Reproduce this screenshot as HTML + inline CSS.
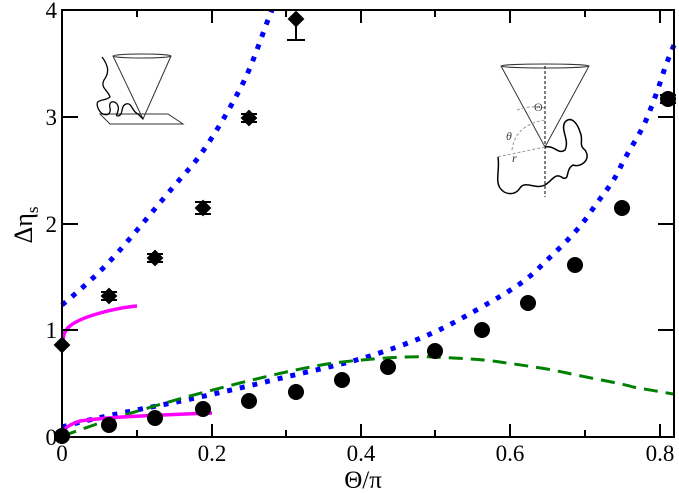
<!DOCTYPE html>
<html><head><style>body{margin:0;background:#fff}svg{display:block}text{font-family:"Liberation Serif",serif}</style></head>
<body>
<svg width="679" height="493" xmlns="http://www.w3.org/2000/svg">
<rect x="0" y="0" width="679" height="493" fill="#fff"/>
<g fill="none" stroke="#333" stroke-width="1">
<ellipse cx="142" cy="56" rx="29" ry="2"/>
<path d="M113 56 L143 119 L171 56"/>
<path d="M100 114 L168 114 L183 124 L110 124 Z"/>
</g>
<path d="M102 57 C108 65 110 72 104 80 C100 88 108 90 110 97 C104 102 94 98 98 108 C102 118 112 116 110 108 C108 100 116 100 118 106 C120 112 114 116 118 116 C124 115 120 106 126 104 C132 102 132 112 138 114 L143 119" fill="none" stroke="#000" stroke-width="1.3"/>
<g fill="none" stroke="#333" stroke-width="1">
<ellipse cx="545" cy="66" rx="44" ry="2"/>
<path d="M501 66 L545 147 L589 66"/>
</g>
<path d="M545 66 L545 197" stroke="#000" stroke-dasharray="3 2" fill="none"/>
<g fill="none" stroke="#999" stroke-dasharray="3 2">
<path d="M545 147 L497 157"/>
<path d="M517 110 Q530 105 545 108"/>
<path d="M512 150 Q515 125 545 120"/>
</g>
<path d="M545 147 C555 145 558 155 565 150 C570 140 560 130 565 122 C572 115 578 125 580 132 C584 140 578 145 585 150 C592 160 580 168 573 165 C565 170 570 180 563 178 C555 172 553 180 545 185 C535 190 525 180 520 188 C515 196 505 195 500 188 C495 180 500 170 498 157" fill="none" stroke="#000" stroke-width="1.5"/>
<text x="534" y="111" font-size="12" fill="#444">Θ</text>
<text x="506" y="140" font-size="12" font-style="italic" fill="#444">θ</text>
<text x="512" y="162" font-size="12" font-style="italic" fill="#333">r</text>
<path d="M62 305 C80 290 99 274 120 250 S170 190 189 169 S235 100 245 79 S265 26 272 10" fill="none" stroke="#0000ff" stroke-width="5" stroke-dasharray="5 8"/>
<path d="M62 427 C100 416 150 408 200 397 S260 383 303 373 S360 360 397 347 S450 325 480 308 S525 282 540 267 S575 235 590 213 S612 185 620 168 S640 135 647 118 S662 78 665 67 L674 45" fill="none" stroke="#0000ff" stroke-width="5" stroke-dasharray="5 8"/>
<path d="M63 436 C100 422 160 403 240 383 S340 362 362 360 S410 356 433 357 S480 359 500 362 S545 368 567 373 S620 383 633 387 L673 394" fill="none" stroke="#008000" stroke-width="3" stroke-dasharray="14 8"/>
<path d="M63 437 C64 428 66 426 80 421 C100 418 130 416 212 413" fill="none" stroke="#ff00ff" stroke-width="3.5"/>
<path d="M63 342 C63 330 68 322 100 313 C115 309 125 307 137 306" fill="none" stroke="#ff00ff" stroke-width="3.5"/>
<g fill="#000" stroke="#000" stroke-width="2">
<path d="M62 338 L69 345 L62 352 L55 345 Z"/>
<path d="M109 289 L116 296 L109 303 L102 296 Z M101 292 H117 M101 300 H117 M109 292 V300"/>
<path d="M155 251 L162 258 L155 265 L148 258 Z M147 254 H163 M147 262 H163"/>
<path d="M203 201 L210 208 L203 215 L196 208 Z M195 202 H211 M195 214 H211"/>
<path d="M249 111 L256 118 L249 125 L242 118 Z M241 114 H257 M241 122 H257"/>
<path d="M296 12 L303 19 L296 26 L289 19 Z M296 19 V40 M287 40 H305"/>
</g>
<g fill="#000" stroke="#000" stroke-width="2">
<circle cx="62" cy="436" r="7"/>
<circle cx="109" cy="425" r="7"/>
<circle cx="155" cy="418" r="7"/>
<circle cx="203" cy="409" r="7"/><path d="M195 409 H211"/>
<circle cx="249" cy="401" r="7"/><path d="M241 401 H257"/>
<circle cx="296" cy="392" r="7"/><path d="M288 392 H304"/>
<circle cx="342" cy="380" r="7"/><path d="M334 380 H350"/>
<circle cx="388" cy="367" r="7"/><path d="M380 367 H396"/>
<circle cx="435" cy="351" r="7"/><path d="M427 351 H443"/>
<circle cx="482" cy="330" r="7"/><path d="M474 330 H490"/>
<circle cx="528" cy="303" r="7"/><path d="M520 303 H536"/>
<circle cx="575" cy="265" r="7"/><path d="M567 265 H583"/>
<circle cx="622" cy="208" r="7"/><path d="M614 208 H630"/>
<circle cx="668" cy="99" r="7"/><path d="M660 95 H676 M660 103 H676"/>
</g>
<rect x="62" y="10" width="612" height="427" fill="none" stroke="#000" stroke-width="2"/>
<g stroke="#000" stroke-width="2">
<path d="M212 437 V424 M361 437 V424 M510 437 V424 M660 437 V424 M137 437 V430 M286 437 V430 M435 437 V430 M585 437 V430"/>
<path d="M212 10 V23 M361 10 V23 M510 10 V23 M660 10 V23 M137 10 V17 M286 10 V17 M435 10 V17 M585 10 V17"/>
<path d="M62 330 H78 M62 224 H78 M62 117 H78 M674 330 H658 M674 224 H658 M674 117 H658"/>
</g>
<g font-size="23" fill="#000">
<text x="57" y="445" text-anchor="end">0</text>
<text x="57" y="338" text-anchor="end">1</text>
<text x="57" y="232" text-anchor="end">2</text>
<text x="57" y="125" text-anchor="end">3</text>
<text x="57" y="18" text-anchor="end">4</text>
<text x="62" y="461" text-anchor="middle">0</text>
<text x="212" y="461" text-anchor="middle">0.2</text>
<text x="361" y="461" text-anchor="middle">0.4</text>
<text x="510" y="461" text-anchor="middle">0.6</text>
<text x="660" y="461" text-anchor="middle">0.8</text>
</g>
<text x="363" y="488" font-size="25" text-anchor="middle">Θ/π</text>
<g transform="translate(32,225) rotate(-90)">
<text x="0" y="0" font-size="26" text-anchor="middle">Δη<tspan font-size="17" dy="6">s</tspan></text>
</g>
</svg>
</body></html>
